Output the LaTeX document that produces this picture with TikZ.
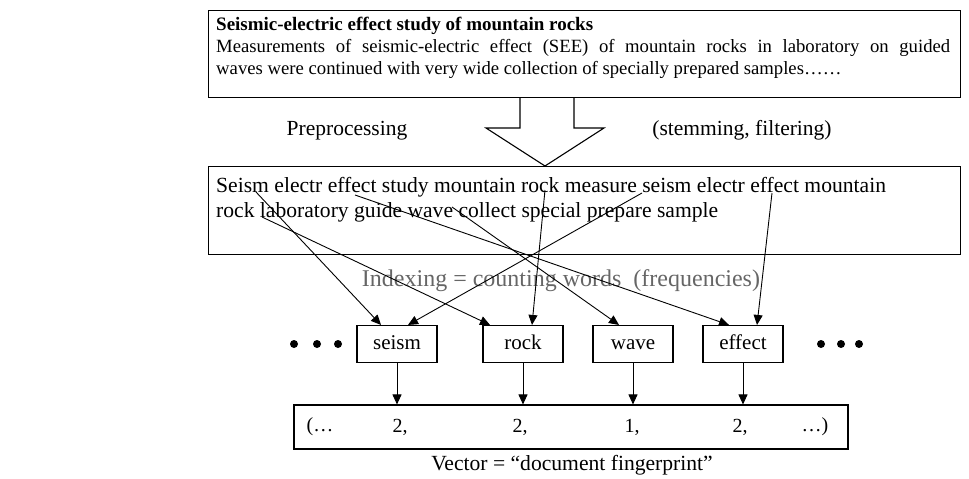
\documentclass[tikz,border=0pt]{standalone}
\usepackage{fontspec}
\setmainfont{Liberation Serif}
\usetikzlibrary{arrows.meta}

\begin{document}
\begin{tikzpicture}[x=1pt,y=-1pt,
  panel/.style={draw, line width=1.1pt, inner sep=0pt},
  wordbox/.style={draw, line width=1.1pt, inner sep=0pt, minimum width=80pt, minimum height=37pt,
    text height=14pt, text depth=4pt, font=\fontsize{21}{24}\selectfont},
  link/.style={-{Triangle[length=10pt,width=9pt]}, line width=0.9pt},
  dot/.style={circle, fill, inner sep=0pt, minimum size=8pt}]
\useasboundingbox (0,0) rectangle (969,479);
% abstract
\node[panel, minimum width=752pt, minimum height=87pt, anchor=north west] (abstract) at (208,10) {};
\node[anchor=north west, align=left, inner sep=0pt, font=\fontsize{18.7}{22}\selectfont] (abstracttext) at (216,17)
  {{\fontsize{19}{22}\selectfont\bfseries Seismic-electric effect study of mountain rocks}\\
   \makebox[734pt][s]{Measurements of seismic-electric effect (SEE) of mountain rocks in laboratory on guided}\\
   waves were continued with very wide collection of specially prepared samples……};
% preprocessing
\draw[line width=1.1pt] (520,97) -- (520,128) -- (486,128) -- (545,166) -- (604,128) -- (574,128) -- (574,97);
\node[font=\fontsize{21.5}{24}\selectfont] (prep) at (347,131) {Preprocessing};
\node[font=\fontsize{21.5}{24}\selectfont] (filter) at (742,130) {(stemming, filtering)};
\node[panel, minimum width=752pt, minimum height=88pt, anchor=north west] (stems) at (208,166) {};
\node[anchor=north west, align=left, inner sep=0pt, font=\fontsize{21.6}{25}\selectfont] (stemtext) at (216,177)
  {Seism electr effect study mountain rock measure seism electr effect mountain\\
   rock laboratory guide wave collect special prepare sample};
% indexing
\node[text=black!60, font=\fontsize{24}{28}\selectfont] (indexing) at (561,281) {Indexing = counting words\ \ (frequencies)};
\node[wordbox] (seism) at (397,344) {seism};
\node[wordbox] (rock) at (523,344) {rock};
\node[wordbox] (wave) at (633,344) {wave};
\node[wordbox] (effect) at (743,344) {effect};
\foreach \x [count=\i] in {294,317,338} \node[dot] (ldot\i) at (\x,344) {};
\foreach \x [count=\i] in {821,841,859} \node[dot] (rdot\i) at (\x,344) {};
\coordinate (seismA) at (256,192);
\coordinate (seismB) at (642,193);
\coordinate (rockA) at (545,190);
\coordinate (rockB) at (262,217);
\coordinate (waveA) at (452,207);
\coordinate (effectA) at (355,195);
\coordinate (effectB) at (772,193);
\draw[link] (seismA) -- ([xshift=-16pt]seism.north);
\draw[link] (seismB) -- ([xshift=11pt]seism.north);
\draw[link] (rockB) -- ([xshift=-33pt]rock.north);
\draw[link] (rockA) -- ([xshift=9pt]rock.north);
\draw[link] (waveA) -- ([xshift=-14pt]wave.north);
\draw[link] (effectA) -- ([xshift=-14pt]effect.north);
\draw[link] (effectB) -- ([xshift=14pt]effect.north);
% vector
\node[panel, minimum width=554pt, minimum height=44pt] (vector) at (571,427) {};
\begin{scope}[every node/.style={font=\fontsize{20}{24}\selectfont}]
\node (v0) at (320,427) {(…};
\node (v1) at (400,427) {2,};
\node (v2) at (520,427) {2,};
\node (v3) at (632,427) {1,};
\node (v4) at (740,427) {2,};
\node (v5) at (815,427) {…)};
\node[font=\fontsize{21.6}{24}\selectfont] (caption) at (572,465) {Vector = “document fingerprint”};
\end{scope}
\foreach \w in {seism,rock,wave,effect} \draw[link] (\w) -- (\w |- vector.north);
\end{tikzpicture}
\end{document}
